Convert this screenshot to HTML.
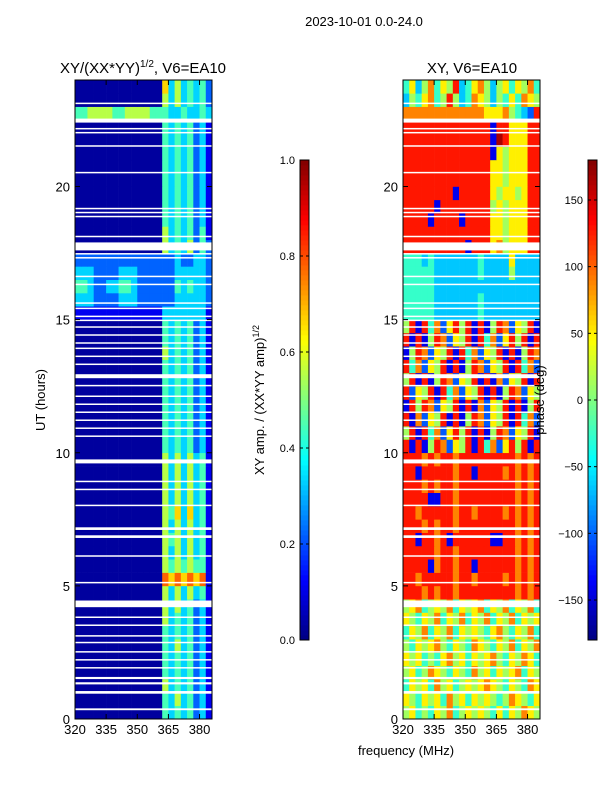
<!DOCTYPE html>
<html><head><meta charset="utf-8"><style>
body{margin:0;background:#fff;width:600px;height:800px;overflow:hidden}
svg{font-family:"Liberation Sans","DejaVu Sans",sans-serif}
</style></head><body>
<svg id="fig" width="600" height="800"></svg>
<script>
// ---- data ----
const freqStart = 320, freqStep = 3, freqEnd = 386;
const utStep = 0.5;
const xTicks = [320, 335, 350, 365, 380];
const yTicks = [0, 5, 10, 15, 20];
const ampTicks = [0.0, 0.2, 0.4, 0.6, 0.8, 1.0];
const phaseTicks = [-150, -100, -50, 0, 50, 100, 150];
// amplitude rows (UT 0 upwards), levels 0-9 -> 0..1
const ampRows = [
"0000000000000043434231","0000000000000043534231","0000000000000053434231","0000000000000043434231",
"0000000000000043434231","0000000000000043534231","0000000000000043434231","0000000000000053434231",
"0000000000000053534231","0000000000000053535341","0000000000000076767671","0000000000000054545441",
"0000000000000053535341","0000000000000054535341","0000000000000053535341","0000000000000054636341",
"0000000000000053535341","0000000000000053535341","0000000000000053535341","0000000000000053535341",
"0000000000000043434231","0000000000000043434231","0000000000000043434231","0000000000000043434231",
"0000000000000043434231","0000000000000043434231","0000000000000043434231","0000000000000053434231",
"0000000000000043434231","0000000000000043434231","1111111111111133333331","3332222333222222333332",
"4432233443222222434332","3332222333222222333332","2222222222222222322332","0000000000000053435242",
"0000000000000053434241","0000000000000043434231","0000000000000043434231","0000000000000043434231",
"0000000000000043434231","0000000000000043434231","0000000000000043434231","0000000000000043434231",
"0000000000000043434231","4455554455554443343343","0000000000000053534342","0000000000000063534342"];
// phase rows, levels 0-9 -> -180..180
const phaseRows = [
"5645465745656546465765","6546564756465654576546","4656475645656765465476","5645765465475646567465",
"6564546756465675465764","5465675465476546574657","4657465746565467546574","6546574657465746574656",
"5674565746567465746574","8887878878888888887878","8878888878878888787878","8888178878818888887878",
"8888878878888888887878","8818878188888811887878","8887878878888888887878","8878888878878888787878",
"8888118878888888887878","8887878878888888887878","8818888878818888787878","8887878878888888887878",
"8181587265818472685818","5818472685818158726581","8172658181587265818472","1858726581817265818158",
"8265818472658181587265","5818158726581817265818","8472658181587265818472","1587265818472658181587",
"8181587265818472685818","5818472685818158726581","4444433333334333333333","4444433333334333333333",
"4444433333333333333333","4444433333334333353333","4443433333334333363333","8888888888188867566688",
"8888888888888866566688","8888188881888866566688","8888818888888856566688","8888888818888865665688",
"8888888888888866566688","8888888888888866566688","8888888888888816566688","8888888888888819866688",
"8888888888888818866688","7777777777777666754328","3546745853476535464765","4635746583467535646574"];
// flagged (blank) UT intervals
const flags = [[0.33,0.4],[0.95,1.05],[1.3,1.38],[1.5,1.58],[1.9,1.95],[2.2,2.25],[2.5,2.55],[2.85,2.9],[3.1,3.15],[3.5,3.55],[3.8,3.85],[4.2,4.45],[5.1,5.15],[6.1,6.15],[6.8,6.9],[7.1,7.2],[8.0,8.05],[8.6,8.65],[8.9,8.95],[9.6,9.75],[10.6,10.65],[10.9,10.95],[11.2,11.25],[11.5,11.55],[11.8,11.85],[12.1,12.15],[12.5,12.55],[12.8,12.95],[13.3,13.35],[13.6,13.65],[13.9,13.95],[14.1,14.15],[14.4,14.45],[14.7,14.75],[14.95,15.0],[15.1,15.15],[15.4,15.45],[15.6,15.65],[16.3,16.35],[16.6,16.65],[17.3,17.35],[17.45,17.5],[17.6,17.9],[18.1,18.15],[18.85,18.9],[19.0,19.05],[19.15,19.2],[20.5,20.55],[21.5,21.55],[22.0,22.05],[22.15,22.2],[22.4,22.55],[23.1,23.15]];

// ---- helpers ----
const NS="http://www.w3.org/2000/svg";
const svg=document.getElementById('fig');
function mk(tag,attrs,parent){const e=document.createElementNS(NS,tag);for(const k in attrs)e.setAttribute(k,attrs[k]);(parent||svg).appendChild(e);return e;}
function jet(v){v=Math.max(0,Math.min(1,v));
 const r=Math.max(0,Math.min(1,1.5-Math.abs(4*v-3))),g=Math.max(0,Math.min(1,1.5-Math.abs(4*v-2))),b=Math.max(0,Math.min(1,1.5-Math.abs(4*v-1)));
 return `rgb(${Math.round(r*255)},${Math.round(g*255)},${Math.round(b*255)})`;}
const Y0=719,Y1=80;
function yS(ut){return Y0-(ut/24)*(Y0-Y1);}

function panel(x0,x1,rows,name,scale){
 const xS=f=>x0+(f-freqStart)/(freqEnd-freqStart)*(x1-x0);
 const g=mk('g',{});
 
 
 rows.forEach((row,ri)=>{
  for(let ci=0;ci<row.length;ci++){
   const f=freqStart+ci*freqStep, ut=ri*utStep;
   const r=mk('rect',{x:xS(f),y:yS(ut+utStep),width:xS(f+freqStep)-xS(f)+0.3,height:yS(ut)-yS(ut+utStep)+0.3,fill:jet(scale(+row[ci]))},g);
   
   
  }
 });
 flags.forEach(fl=>{
  const r=mk('rect',{x:x0,y:yS(fl[1]),width:x1-x0,height:Math.max(1.5,yS(fl[0])-yS(fl[1])),fill:'#fff'},g);
  
  
 });
 const fr=mk('rect',{x:x0,y:Y1,width:x1-x0,height:Y0-Y1,fill:'none',stroke:'#000','stroke-width':1},g);
 
 
 xTicks.forEach(t=>{const x=xS(t);
  mk('line',{x1:x,x2:x,y1:Y0,y2:Y0-5,stroke:'#000'},g);mk('line',{x1:x,x2:x,y1:Y1,y2:Y1+5,stroke:'#000'},g);
  const tx=mk('text',{x:x,y:Y0+15,'font-size':13,'text-anchor':'middle'},g);tx.textContent=t;
  
  });
 yTicks.forEach(t=>{const y=yS(t);
  mk('line',{x1:x0,x2:x0+5,y1:y,y2:y,stroke:'#000'},g);mk('line',{x1:x1,x2:x1-5,y1:y,y2:y,stroke:'#000'},g);
  const tx=mk('text',{x:x0-5,y:y+5,'font-size':13,'text-anchor':'end'},g);tx.textContent=t;
  
  });
}
function cbar(x,ticks,lo,hi,name){
 const top=160,bot=640,g=mk('g',{});
 
 
 const N=96;
 for(let i=0;i<N;i++){mk('rect',{x:x,y:bot-(i+1)*(bot-top)/N,width:9,height:(bot-top)/N+0.4,fill:jet((i+0.5)/N)},g);}
 mk('rect',{x:x,y:top,width:9,height:bot-top,fill:'none',stroke:'#000','stroke-width':1},g);
 ticks.forEach(t=>{const y=bot-(t-lo)/(hi-lo)*(bot-top);
  mk('line',{x1:x,x2:x+3,y1:y,y2:y,stroke:'#000'},g);mk('line',{x1:x+9,x2:x+6,y1:y,y2:y,stroke:'#000'},g);
  const tx=mk('text',{x:x-5,y:y+4,'font-size':11,'text-anchor':'end'},g);
  tx.textContent=(lo===0?t.toFixed(1):String(t).replace('-','\u2212'));
  
  });
}
panel(75,212,ampRows,'amplitude-heatmap',d=>d===0?0.03:d/9);
panel(403,540,phaseRows,'phase-heatmap',d=>d/9*0.96);
cbar(300,ampTicks,0,1,'amplitude-colorbar');
cbar(588,phaseTicks,-180,180,'phase-colorbar');
</script>
<svg width="600" height="800" style="position:absolute;left:0;top:0">
<text x="364" y="26" font-size="13" text-anchor="middle">2023-10-01 0.0-24.0</text>
<text x="143" y="73" font-size="15" text-anchor="middle">XY/(XX*YY)<tspan font-size="10" dy="-6">1/2</tspan><tspan dy="6">, V6=EA10</tspan></text>
<text x="472" y="73" font-size="15" text-anchor="middle">XY, V6=EA10</text>
<text x="45" y="400" font-size="13" text-anchor="middle" transform="rotate(-90 45 400)">UT (hours)</text>
<text x="406" y="755" font-size="13" text-anchor="middle">frequency (MHz)</text>
<text x="264" y="400" font-size="13" text-anchor="middle" transform="rotate(-90 264 400)">XY amp. / (XX*YY amp)<tspan font-size="9" dy="-5">1/2</tspan></text>
<text x="544" y="400" font-size="13" text-anchor="middle" transform="rotate(-90 544 400)">phase (deg)</text>
</svg>
</body></html>
